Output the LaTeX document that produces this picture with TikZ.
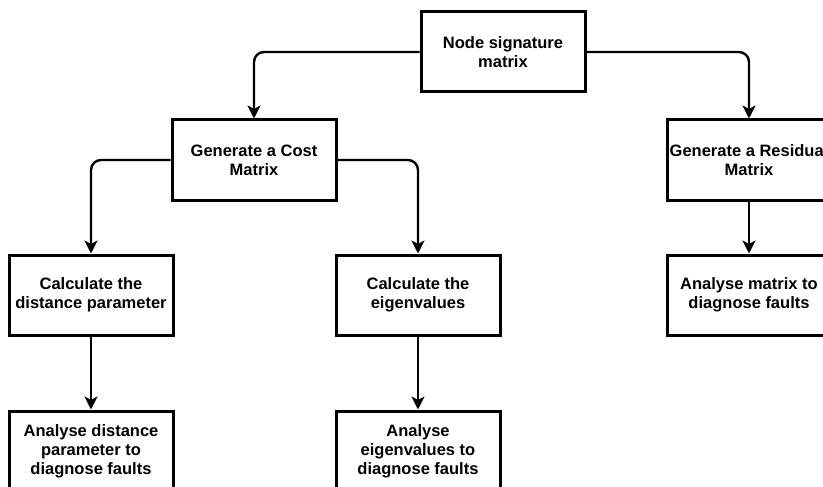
\documentclass[tikz,border=0pt]{standalone}
\usepackage{fontspec}
\setmainfont{Liberation Sans}
\usetikzlibrary{arrows.meta}
\begin{document}
\begin{tikzpicture}[x=1pt,y=-1pt,
  box/.style={draw=black, line width=3pt, fill=white, minimum width=164pt, minimum height=80pt,
    inner sep=0pt, align=center, font=\fontsize{16.5}{19}\selectfont\bfseries},
  conn/.style={draw=black, line width=2.4pt, rounded corners=10pt,
    -{Stealth[length=13pt,width=13pt,inset=3.5pt]}}]
\useasboundingbox (0,0) rectangle (823,487);
\clip (0,0) rectangle (823,487);
\node[box] (top) at (503,52) {Node signature\\matrix};
\node[box] (cost) at (254,160) {Generate a Cost\\Matrix};
\node[box] (resid) at (749,160) {Generate a Residual\\Matrix};
\node[box] (dist) at (91,295) {Calculate the\\distance parameter};
\node[box] (eig) at (418,295) {Calculate the\\eigenvalues};
\node[box] (anamat) at (749,295) {Analyse matrix to\\diagnose faults};
\node[box] (anadist) at (91,451) {Analyse distance\\parameter to\\diagnose faults};
\node[box] (anaeig) at (418,451) {Analyse\\eigenvalues to\\diagnose faults};
\draw[conn] (top.west) -| (cost.north);
\draw[conn] (top.east) -| (resid.north);
\draw[conn] (cost.west) -| (dist.north);
\draw[conn] (cost.east) -| (eig.north);
\draw[conn] (resid.south) -- (anamat.north);
\draw[conn] (dist.south) -- (anadist.north);
\draw[conn] (eig.south) -- (anaeig.north);
\end{tikzpicture}
\end{document}
